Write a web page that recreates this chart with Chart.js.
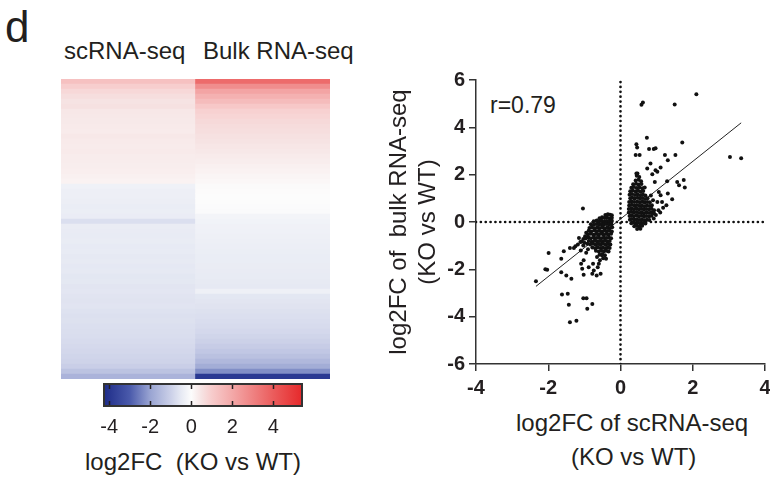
<!DOCTYPE html>
<html>
<head>
<meta charset="utf-8">
<script src="https://cdn.jsdelivr.net/npm/chart.js@4.4.0/dist/chart.umd.min.js"></script>
<style>
body { margin: 0; background: #fff; width: 770px; height: 479px; overflow: hidden; position: relative;
       font-family: "Liberation Sans", Arial, sans-serif; color: #231f20; }
canvas { position: absolute; top: 0; }
.lbl { position: absolute; white-space: pre; line-height: 1; font-size: 24px; }
</style>
</head>
<body>
<div class="lbl" style="left:5px;top:5px;font-size:44px">d</div>
<div class="lbl" id="colA" style="left:64px;top:39px"></div>
<div class="lbl" id="colB" style="left:203px;top:39px"></div>
<div class="lbl" id="cbTitle" style="left:85px;top:450px"></div>
<div class="lbl" id="xTitle1" style="left:516px;top:411px"></div>
<div class="lbl" id="xTitle2" style="left:571px;top:445px"></div>
<div class="lbl" id="rText" style="left:490px;top:94px;font-size:23px"></div>

<canvas id="heat" width="370" height="479" style="left:0"></canvas>
<canvas id="cbar" width="370" height="479" style="left:0"></canvas>
<canvas id="scatter" width="400" height="479" style="left:370px"></canvas>

<script>
// heatmap columns and rows (log2FC, top to bottom)
const columnLabels = ['scRNA-seq', 'Bulk RNA-seq'];
const scRowValues = [1.3, 0.95, 0.75, 0.6, 0.5,
    0.55, 0.42, 0.4, 0.38, 0.36, 0.35, 0.4, 0.36, 0.34, 0.36, 0.33, 0.32, 0.3, 0.28, 0.25,
    0.2,
    -0.3, -0.34, -0.33, -0.37, -0.4, -0.38, -0.41, -0.7, -0.42, -0.44, -0.45, -0.43, -0.47, -0.46, -0.5, -0.48, -0.52, -0.5, -0.55, -0.53,
    -0.58, -0.56, -0.6, -0.62, -0.6, -0.65, -0.68, -0.66, -0.7, -0.72, -0.75, -0.78, -0.82, -0.86, -0.9, -0.95, -1.05, -1.3, -1.65];
const bulkRowValues = [3.6, 2.7, 2.1, 1.75, 1.45, 1.1, 0.9, 0.8, 0.72, 0.65,
    0.6, 0.55, 0.5, 0.45, 0.4, 0.35, 0.3, 0.25, 0.2, 0.15,
    0.1, 0.05, 0.02, 0.0, 0.0, -0.02, -0.05,
    -0.2, -0.24, -0.28, -0.3, -0.32, -0.34, -0.36, -0.38, -0.4, -0.4, -0.42, -0.44, -0.46, -0.48, -0.5,
    -0.32,
    -0.55, -0.58, -0.62, -0.66, -0.7, -0.74, -0.78, -0.84, -0.9, -0.98, -1.08, -1.2, -1.35, -1.55, -1.8, -2.3, -3.9];

// colour scale
const colorMin = -4.25, colorMax = 5.4;
const colorTicks = [-4, -2, 0, 2, 4];
const colorStopValues = [-4.25, -3, -2, -1, -0.5, 0, 0.5, 1, 2, 3, 4, 5.4];
const colorStopColors = ['#1e2c88', '#4a5aab', '#99a4d2', '#cbd0e8', '#e6e9f3', '#fcfcfc',
                         '#f6e3e3', '#f7cccc', '#f3a8a8', '#ef8282', '#eb5c5c', '#e6292b'];
const colorTitle = 'log2FC  (KO vs WT)';

// scatter: [scRNA-seq log2FC, bulk log2FC]
const scatterPoints = [
    // negative cluster
    [-0.42,0.3],[-0.35,0.33],[-0.29,0.31],[-0.24,0.28],
    [-0.58,0.16],[-0.51,0.2],[-0.44,0.17],[-0.37,0.19],[-0.3,0.15],[-0.24,0.18],
    [-0.74,0.03],[-0.66,0.06],[-0.59,0.02],[-0.52,0.05],[-0.45,0.01],[-0.38,0.04],[-0.31,0.02],[-0.24,0.05],
    [-0.82,-0.1],[-0.74,-0.12],[-0.67,-0.08],[-0.6,-0.11],[-0.53,-0.09],[-0.46,-0.12],[-0.39,-0.08],[-0.32,-0.11],[-0.25,-0.09],
    [-0.86,-0.25],[-0.79,-0.22],[-0.71,-0.26],[-0.64,-0.23],[-0.57,-0.25],[-0.5,-0.22],[-0.43,-0.26],[-0.36,-0.23],[-0.29,-0.25],[-0.23,-0.22],
    [-0.88,-0.37],[-0.81,-0.4],[-0.73,-0.36],[-0.66,-0.39],[-0.59,-0.37],[-0.52,-0.4],[-0.45,-0.36],[-0.38,-0.39],[-0.31,-0.37],[-0.24,-0.4],
    [-0.9,-0.53],[-0.83,-0.5],[-0.75,-0.54],[-0.68,-0.51],[-0.61,-0.53],[-0.54,-0.5],[-0.47,-0.54],[-0.4,-0.51],[-0.33,-0.53],[-0.26,-0.5],
    [-0.89,-0.66],[-0.82,-0.69],[-0.74,-0.65],[-0.67,-0.68],[-0.6,-0.66],[-0.53,-0.69],[-0.46,-0.65],[-0.39,-0.68],[-0.32,-0.66],[-0.26,-0.69],
    [-0.88,-0.8],[-0.8,-0.83],[-0.72,-0.79],[-0.65,-0.82],[-0.58,-0.8],[-0.51,-0.83],[-0.44,-0.79],[-0.37,-0.82],[-0.3,-0.8],
    [-0.84,-0.95],[-0.76,-0.92],[-0.69,-0.96],[-0.62,-0.93],[-0.55,-0.95],[-0.48,-0.92],[-0.41,-0.96],[-0.34,-0.93],[-0.28,-0.95],
    [-0.78,-1.08],[-0.7,-1.11],[-0.63,-1.07],[-0.56,-1.1],[-0.49,-1.08],[-0.42,-1.11],[-0.35,-1.07],[-0.3,-1.1],
    [-0.68,-1.22],[-0.6,-1.25],[-0.53,-1.21],[-0.46,-1.24],[-0.39,-1.22],[-0.33,-1.25],
    [-0.58,-1.38],[-0.5,-1.36],[-0.43,-1.4],[-0.48,-1.53],[-0.4,-1.55],
    [-0.95,-0.45],[-0.98,-0.6],[-1.03,-0.72],[-1.08,-0.82],[-1.0,-0.88],[-1.15,-0.68],[-1.11,-0.85],
    [-1.03,-0.99],[-0.97,-0.7],[-0.92,-0.92],[-1.18,-0.95],[-1.25,-1.02],[-1.1,-1.2],[-0.95,-1.3],[-0.9,-1.15],
    // negative outliers
    [-1.04,0.57],[-1.99,-1.31],[-1.57,-1.24],[-1.64,-1.55],[-1.4,-1.1],[-1.29,-1.1],[-2.08,-2.0],
    [-1.64,-2.12],[-1.5,-2.26],[-1.36,-2.4],[-1.09,-1.76],[-1.06,-1.98],[-1.02,-2.23],[-1.02,-1.62],
    [-0.88,-1.91],[-0.76,-1.76],[-0.74,-2.05],[-0.63,-1.91],[-0.55,-2.19],[-0.66,-2.26],[-0.78,-2.19],
    [-0.65,-1.48],[-0.57,-1.62],[-0.51,-1.41],[-0.6,-1.76],[-1.62,-3.06],[-1.46,-3.03],[-1.43,-3.5],
    [-1.03,-3.22],[-0.94,-3.22],[-0.78,-3.46],[-0.92,-3.67],[-1.4,-4.24],[-1.22,-4.17],[-2.34,-2.5],[-2.03,-2.02],
    // positive cluster
    [0.45,1.95],[0.52,1.9],[0.47,2.05],
    [0.42,1.75],[0.5,1.78],[0.57,1.72],
    [0.35,1.6],[0.43,1.62],[0.5,1.58],[0.58,1.61],
    [0.3,1.45],[0.37,1.48],[0.45,1.44],[0.52,1.47],[0.6,1.43],[0.67,1.46],
    [0.27,1.3],[0.34,1.33],[0.42,1.29],[0.49,1.32],[0.56,1.28],[0.63,1.31],
    [0.25,1.15],[0.32,1.18],[0.4,1.14],[0.47,1.17],[0.55,1.13],[0.62,1.16],[0.69,1.12],
    [0.27,1.0],[0.32,1.03],[0.39,0.99],[0.47,1.02],[0.54,0.98],[0.61,1.01],[0.68,0.97],[0.75,1.0],
    [0.24,0.85],[0.31,0.88],[0.38,0.84],[0.46,0.87],[0.53,0.83],[0.6,0.86],[0.67,0.82],[0.74,0.85],[0.81,0.83],
    [0.24,0.7],[0.31,0.73],[0.38,0.69],[0.45,0.72],[0.52,0.68],[0.59,0.71],[0.66,0.67],[0.73,0.7],[0.8,0.68],[0.87,0.71],
    [0.23,0.55],[0.3,0.58],[0.37,0.54],[0.44,0.57],[0.51,0.53],[0.58,0.56],[0.65,0.52],[0.72,0.55],[0.79,0.53],[0.86,0.56],[0.93,0.5],
    [0.23,0.4],[0.3,0.43],[0.37,0.39],[0.44,0.42],[0.51,0.38],[0.58,0.41],[0.65,0.37],[0.72,0.4],[0.79,0.38],[0.86,0.41],[0.93,0.36],
    [0.25,0.25],[0.3,0.28],[0.37,0.24],[0.44,0.27],[0.51,0.23],[0.58,0.26],[0.65,0.22],[0.72,0.25],[0.79,0.23],[0.86,0.26],
    [0.26,0.1],[0.31,0.13],[0.38,0.09],[0.45,0.12],[0.52,0.08],[0.59,0.11],[0.66,0.07],[0.73,0.1],[0.8,0.08],
    [0.3,-0.05],[0.36,-0.02],[0.41,-0.06],[0.48,-0.03],[0.55,-0.07],[0.62,-0.04],[0.69,-0.06],
    [0.38,-0.18],[0.45,-0.15],[0.52,-0.19],[0.6,-0.16],
    [0.46,-0.3],[0.55,-0.28],
    // positive outliers
    [0.58,4.95],[0.62,5.05],[1.5,4.97],[2.1,5.4],[3.03,2.75],[3.34,2.69],[1.71,3.36],[0.73,3.56],
    [0.44,3.29],[0.46,3.15],[0.79,3.08],[0.92,3.08],[0.97,3.12],[0.42,2.83],[0.53,2.83],
    [1.23,2.83],[1.31,2.61],[1.52,2.83],[0.83,2.47],[0.74,2.26],[0.88,2.02],[0.97,2.19],[1.02,2.12],[1.11,2.3],
    [0.44,2.05],[0.95,1.69],[1.29,1.72],[1.57,1.69],[1.62,1.55],[1.75,1.77],[1.78,1.46],
    [1.31,1.2],[1.43,0.96],[1.27,0.71],[1.06,1.27],[1.11,1.13],[1.02,0.85],[1.15,0.85],
    [1.05,0.5],[1.1,0.4],[1.18,0.6],[0.98,0.3],[0.92,0.15],[0.9,0.92],[0.84,1.12]
];
const fitLineX = [-2.34, 3.34];
const fitLineY = [-2.72, 4.19];
const xTitleLines = ['log2FC of scRNA-seq', '(KO vs WT)'];
const yTitleLines = ['log2FC of  bulk RNA-seq', '(KO vs WT)'];
const corrText = 'r=0.79';

const ink = '#231f20';
const fontFamily = '"Liberation Sans", Arial, sans-serif';

document.getElementById('colA').textContent = columnLabels[0];
document.getElementById('colB').textContent = columnLabels[1];
document.getElementById('cbTitle').textContent = colorTitle;
document.getElementById('xTitle1').textContent = xTitleLines[0];
document.getElementById('xTitle2').textContent = xTitleLines[1];
document.getElementById('rText').textContent = corrText;

function hexToRgb(h) {
    return [parseInt(h.slice(1, 3), 16), parseInt(h.slice(3, 5), 16), parseInt(h.slice(5, 7), 16)];
}
function valueToColor(v) {
    if (v <= colorStopValues[0]) return colorStopColors[0];
    for (let i = 1; i < colorStopValues.length; i++) {
        if (v <= colorStopValues[i]) {
            const t = (v - colorStopValues[i - 1]) / (colorStopValues[i] - colorStopValues[i - 1]);
            const a = hexToRgb(colorStopColors[i - 1]), b = hexToRgb(colorStopColors[i]);
            const c = a.map((ch, k) => Math.round(ch + (b[k] - ch) * t));
            return `rgb(${c[0]},${c[1]},${c[2]})`;
        }
    }
    return colorStopColors[colorStopColors.length - 1];
}

// heatmap as floating bars, one per cell
const cells = [], cellColors = [];
[scRowValues, bulkRowValues].forEach((rows, col) => {
    rows.forEach((v, i) => {
        cells.push({ x: columnLabels[col], y: [i, i + 1] });
        cellColors.push(valueToColor(v));
    });
});

new Chart(document.getElementById('heat'), {
    type: 'bar',
    data: {
        labels: columnLabels,
        datasets: [{ data: cells, backgroundColor: cellColors, borderWidth: 0,
                     barPercentage: 1, categoryPercentage: 1 }]
    },
    options: {
        responsive: false, animation: false,
        layout: { padding: { left: 61, right: 40, top: 79, bottom: 100 } },
        plugins: { legend: { display: false }, tooltip: { enabled: false } },
        scales: {
            x: { display: false },
            y: { display: false, min: 0, max: scRowValues.length, reverse: true }
        }
    }
});

// colour bar
const colorbarPlugin = {
    id: 'colorbar',
    beforeDatasetsDraw(chart) {
        const { ctx, chartArea: a, scales: { x } } = chart;
        const first = colorStopValues[0], last = colorStopValues[colorStopValues.length - 1];
        const g = ctx.createLinearGradient(x.getPixelForValue(first), 0, x.getPixelForValue(last), 0);
        colorStopValues.forEach((v, i) => g.addColorStop((v - first) / (last - first), colorStopColors[i]));
        ctx.save();
        ctx.fillStyle = g;
        ctx.fillRect(a.left, a.top, a.width, a.height);
        ctx.strokeStyle = ink;
        ctx.lineWidth = 1.5;
        colorTicks.forEach(v => {
            const px = Math.round(x.getPixelForValue(v)) + 0.5;
            ctx.beginPath();
            ctx.moveTo(px, a.top); ctx.lineTo(px, a.top + 5);
            ctx.moveTo(px, a.bottom); ctx.lineTo(px, a.bottom - 5);
            ctx.stroke();
        });
        ctx.lineWidth = 2;
        ctx.strokeStyle = '#333';
        ctx.strokeRect(a.left, a.top, a.width, a.height);
        ctx.restore();
    }
};

new Chart(document.getElementById('cbar'), {
    type: 'scatter',
    data: { datasets: [] },
    options: {
        responsive: false, animation: false,
        layout: { padding: { left: 104, right: 68, top: 384, bottom: 0 } },
        plugins: { legend: { display: false }, tooltip: { enabled: false } },
        scales: {
            x: {
                type: 'linear', min: colorMin, max: colorMax,
                afterBuildTicks: s => { s.ticks = colorTicks.map(v => ({ value: v })); },
                afterFit: s => { s.height = 73; },
                grid: { display: false, drawTicks: false },
                border: { display: false },
                ticks: { padding: 9, color: ink, font: { family: fontFamily, size: 20 } }
            },
            y: { display: false, min: 0, max: 1 }
        }
    },
    plugins: [colorbarPlugin]
});

// scatter
const axisGrid = { drawOnChartArea: false, tickLength: 7, color: '#333', lineWidth: 1.5 };
const axisBorder = { color: '#333', width: 1.5 };
const tickFont = { family: fontFamily, size: 20, weight: 'bold' };
const dotted = { type: 'line', borderColor: '#111', borderWidth: 2.7, borderDash: [0.01, 4.85],
                 borderCapStyle: 'round', pointRadius: 0, fill: false };

new Chart(document.getElementById('scatter'), {
    type: 'scatter',
    data: {
        datasets: [
            { data: scatterPoints.map(p => ({ x: p[0], y: p[1] })), pointRadius: 2,
              backgroundColor: '#111', borderWidth: 0 },
            { type: 'line', data: fitLineX.map((x, i) => ({ x, y: fitLineY[i] })),
              borderColor: '#222', borderWidth: 1, pointRadius: 0, fill: false },
            Object.assign({ data: [{ x: -4, y: 0 }, { x: 4, y: 0 }] }, dotted),
            Object.assign({ data: [{ x: 0, y: -6 }, { x: 0, y: 6 }] }, dotted)
        ]
    },
    options: {
        responsive: false, animation: false,
        layout: { autoPadding: false, padding: { left: 0, right: 5, top: 80, bottom: 0 } },
        plugins: { legend: { display: false }, tooltip: { enabled: false } },
        scales: {
            x: {
                type: 'linear', min: -4, max: 4,
                ticks: { stepSize: 2, padding: 5, color: ink, font: tickFont },
                grid: axisGrid, border: axisBorder,
                afterFit: s => { s.height = 115; s.paddingLeft = 0; s.paddingRight = 0; }
            },
            y: {
                type: 'linear', min: -6, max: 6,
                ticks: { stepSize: 2, padding: 4, color: ink, font: tickFont },
                grid: axisGrid, border: axisBorder,
                title: { display: true, text: yTitleLines, color: ink,
                         font: { family: fontFamily, size: 24, lineHeight: 1.2 },
                         padding: { top: 15, bottom: 0 } },
                afterFit: s => { s.width = 106; }
            }
        }
    }
});
</script>
</body>
</html>
